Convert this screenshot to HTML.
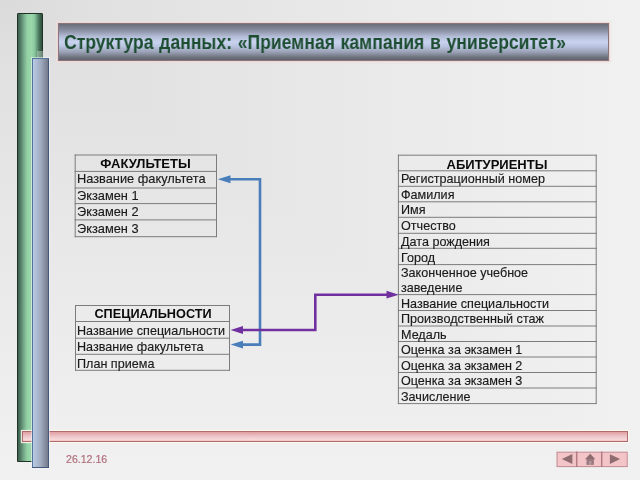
<!DOCTYPE html>
<html><head><meta charset="utf-8">
<style>
*{margin:0;padding:0;box-sizing:border-box}
html,body{width:640px;height:480px;overflow:hidden}
body{position:relative;font-family:"Liberation Sans",sans-serif;background:linear-gradient(90deg,#dadada 0%,#e0e0e0 12%,#e8e8e8 50%,#f1f1f1 100%),linear-gradient(180deg,#dadada 0%,#e0e0e0 12%,#e8e8e8 50%,#f1f1f1 100%);background-blend-mode:lighten}
.a{position:absolute}
#green{left:17px;top:13px;width:26px;height:449px;border:1px solid #1f3427;border-radius:1px 1px 0 0;
 background:linear-gradient(90deg,#3c5e4c 0%,#56806a 12%,#78ac8c 25%,#94d2a6 39%,#9ad8aa 55%,#8ccaa0 68%,#6aa07e 78%,#46725a 88%,#2e4e3e 100%)}
#halo{left:37px;top:51px;width:6px;height:7px;background:rgba(215,232,218,.4)}
#blue{left:32px;top:58px;width:17px;height:410px;border:1px solid #52749c;border-right-color:#45577a;border-bottom-color:#45577a;box-shadow:0 0 0 1px rgba(242,245,248,.55);
 background:linear-gradient(90deg,#bccbe2 0%,#adbdd5 22%,#9ea9be 55%,#868ea0 80%,#727a8b 100%)}
#pink{left:22px;top:431px;width:606px;height:10.5px;border:1px solid #ad6c70;box-shadow:0 0 1px 1px rgba(255,250,238,.85);
 background:linear-gradient(180deg,#e29ea2 0%,#e8b6ba 30%,#eecfd2 62%,#fad6d8 85%,#f2bfc1 100%)}
#title{left:58px;top:23px;width:551px;height:38px;border:1px solid #86767e;box-shadow:0 0 0 1px rgba(238,214,210,.95),0 0 1px 2px rgba(240,225,222,.5);
 background:linear-gradient(180deg,#6a6d79 0%,#8a90a3 18%,#b4bdd8 35%,#c8d3ef 50%,#bac4e0 62%,#9aa1b5 78%,#70747f 92%,#5f626c 100%)}
#ttext{left:64px;top:33px;font-weight:bold;font-size:19.4px;line-height:1;color:#1d4d31;white-space:nowrap;letter-spacing:0px;word-spacing:1.0px;transform-origin:0 0;transform:scaleX(0.906)}
.t,.h,#ttext,#date{will-change:transform}
.t{position:absolute;white-space:nowrap;line-height:1;color:#1a1a1a;-webkit-text-stroke:0.15px #1a1a1a;font-size:12.6px}
.h{position:absolute;white-space:nowrap;line-height:1;color:#0a0a0a;font-size:13px;font-weight:bold;text-align:center}
#date{left:66px;top:454.4px;font-size:10.6px;line-height:1;color:#b0707c;-webkit-text-stroke:0.2px #b0707c}
</style></head>
<body>
<div id="green" class="a"></div>
<div id="halo" class="a"></div>
<div id="title" class="a"></div>
<div id="ttext" class="a">Структура данных: «Приемная кампания в университет»</div>
<svg class="a" style="left:0;top:0" width="640" height="480"><g stroke="#7c7c7c" stroke-width="1" fill="none"><line x1="75.2" y1="154.5" x2="75.2" y2="237.2"/><line x1="216.5" y1="154.5" x2="216.5" y2="237.2"/><line x1="74.7" y1="155.0" x2="217.0" y2="155.0"/><line x1="74.7" y1="171.4" x2="217.0" y2="171.4"/><line x1="74.7" y1="188.0" x2="217.0" y2="188.0"/><line x1="74.7" y1="203.6" x2="217.0" y2="203.6"/><line x1="74.7" y1="219.9" x2="217.0" y2="219.9"/><line x1="74.7" y1="236.7" x2="217.0" y2="236.7"/></g></svg>
<div class="h" style="left:75px;width:141px;top:157.3px">ФАКУЛЬТЕТЫ</div>
<div class="t" style="font-size:12.8px;left:77px;top:173.2px">Название факультета</div>
<div class="t" style="font-size:12.8px;left:77px;top:189.6px">Экзамен 1</div>
<div class="t" style="font-size:12.8px;left:77px;top:206px">Экзамен 2</div>
<div class="t" style="font-size:12.8px;left:77px;top:223px">Экзамен 3</div>
<svg class="a" style="left:0;top:0" width="640" height="480"><g stroke="#7c7c7c" stroke-width="1" fill="none"><line x1="75.5" y1="305.0" x2="75.5" y2="370.8"/><line x1="229.5" y1="305.0" x2="229.5" y2="370.8"/><line x1="75.0" y1="305.5" x2="230.0" y2="305.5"/><line x1="75.0" y1="321.5" x2="230.0" y2="321.5"/><line x1="75.0" y1="338.2" x2="230.0" y2="338.2"/><line x1="75.0" y1="354.3" x2="230.0" y2="354.3"/><line x1="75.0" y1="370.3" x2="230.0" y2="370.3"/></g></svg>
<div class="h" style="font-size:12.7px;left:76px;width:154px;top:307.8px">СПЕЦИАЛЬНОСТИ</div>
<div class="t" style="left:77px;top:325px">Название специальности</div>
<div class="t" style="left:77px;top:341px">Название факультета</div>
<div class="t" style="left:77px;top:358px">План приема</div>
<svg class="a" style="left:0;top:0" width="640" height="480"><g stroke="#7c7c7c" stroke-width="1" fill="none"><line x1="398.4" y1="154.7" x2="398.4" y2="404.1"/><line x1="596.2" y1="154.7" x2="596.2" y2="404.1"/><line x1="397.9" y1="155.2" x2="596.7" y2="155.2"/><line x1="397.9" y1="170.8" x2="596.7" y2="170.8"/><line x1="397.9" y1="186.3" x2="596.7" y2="186.3"/><line x1="397.9" y1="201.8" x2="596.7" y2="201.8"/><line x1="397.9" y1="217.3" x2="596.7" y2="217.3"/><line x1="397.9" y1="233.3" x2="596.7" y2="233.3"/><line x1="397.9" y1="248.3" x2="596.7" y2="248.3"/><line x1="397.9" y1="264.6" x2="596.7" y2="264.6"/><line x1="397.9" y1="294.6" x2="596.7" y2="294.6"/><line x1="397.9" y1="310.5" x2="596.7" y2="310.5"/><line x1="397.9" y1="326.0" x2="596.7" y2="326.0"/><line x1="397.9" y1="341.5" x2="596.7" y2="341.5"/><line x1="397.9" y1="357.0" x2="596.7" y2="357.0"/><line x1="397.9" y1="372.5" x2="596.7" y2="372.5"/><line x1="397.9" y1="388.0" x2="596.7" y2="388.0"/><line x1="397.9" y1="403.6" x2="596.7" y2="403.6"/></g></svg>
<div class="h" style="left:398px;width:198px;top:157.5px">АБИТУРИЕНТЫ</div>
<div class="t" style="left:401px;top:173px">Регистрационный номер</div>
<div class="t" style="left:401px;top:189px">Фамилия</div>
<div class="t" style="left:401px;top:204px">Имя</div>
<div class="t" style="left:401px;top:220px">Отчество</div>
<div class="t" style="left:401px;top:236px">Дата рождения</div>
<div class="t" style="left:401px;top:251.7px">Город</div>
<div class="t" style="left:401px;top:266.7px">Законченное учебное</div>
<div class="t" style="left:401px;top:282.2px">заведение</div>
<div class="t" style="left:401px;top:297.7px">Название специальности</div>
<div class="t" style="left:401px;top:313px">Производственный стаж</div>
<div class="t" style="left:401px;top:329px">Медаль</div>
<div class="t" style="left:401px;top:344px">Оценка за экзамен 1</div>
<div class="t" style="left:401px;top:360px">Оценка за экзамен 2</div>
<div class="t" style="left:401px;top:375px">Оценка за экзамен 3</div>
<div class="t" style="left:401px;top:391px">Зачисление</div>
<svg class="a" style="left:0;top:0" width="640" height="480">
 <g fill="none" stroke-width="2.6">
  <polyline points="230,179.2 260,179.2 260,344.6 241,344.6" stroke="#4a7ebb"/>
  <polyline points="241,330 315.3,330 315.3,294.7 388,294.7" stroke="#7030a0"/>
 </g>
 <polygon points="217.8,179.2 230.5,175.2 230.5,183.2" fill="#4a7ebb"/>
 <polygon points="230.6,344.6 243,340.7 243,348.5" fill="#4a7ebb"/>
 <polygon points="230.6,330 243,326.1 243,333.9" fill="#7030a0"/>
 <polygon points="398.8,294.7 386.5,290.8 386.5,298.6" fill="#7030a0"/>
</svg>
<div id="pink" class="a"></div>
<div id="blue" class="a"></div>
<div id="date" class="a">26.12.16</div>
<svg class="a" style="left:0;top:0" width="640" height="480">
 <rect x="557" y="452.2" width="70.2" height="14.4" fill="#f3c5c8" stroke="#c08a90" stroke-width="1"/>
 <line x1="576.7" y1="451.5" x2="576.7" y2="467" stroke="#b27c82" stroke-width="1.5"/>
 <line x1="601.7" y1="451.5" x2="601.7" y2="467" stroke="#b27c82" stroke-width="1.5"/>
 <polygon points="561.8,459 572.4,453.9 572.4,464.1" fill="#8e6c70"/>
 <polygon points="609.9,454.2 609.9,464.1 620.1,459.1" fill="#8e6c70"/>
 <path d="M590.2,453.8 L595.4,459.3 L585,459.3 Z" fill="#8e6c70"/>
 <rect x="586.5" y="459" width="7.4" height="5.9" fill="#9a7a80"/>
 <rect x="589" y="461" width="2.4" height="3.9" fill="#b4969a"/>
</svg>
</body></html>
